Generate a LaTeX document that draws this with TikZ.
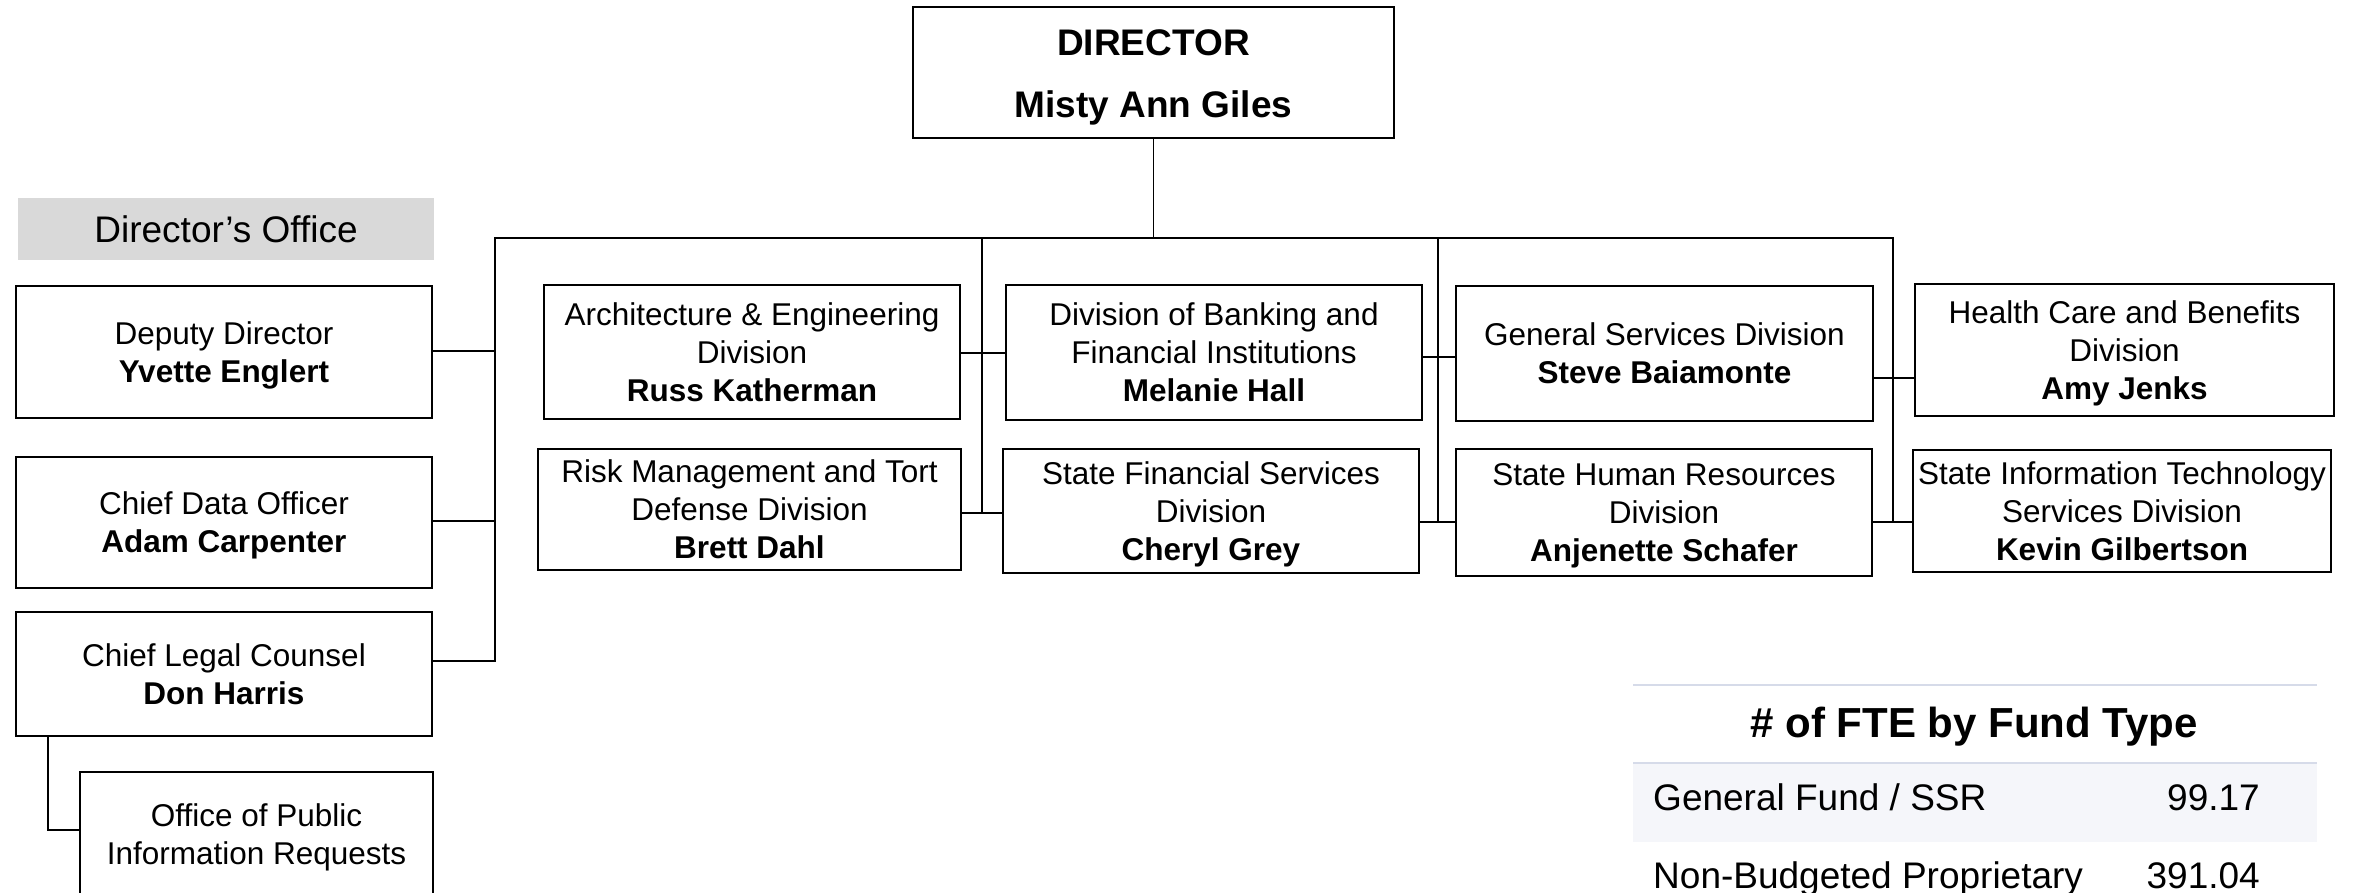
\documentclass[tikz,border=0pt]{standalone}
\usepackage{fontspec}
\setmainfont{Liberation Sans}
\definecolor{officegray}{HTML}{D9D9D9}
\definecolor{rulecol}{HTML}{D6DBE9}
\definecolor{rowbg}{HTML}{F5F6FA}
\begin{document}
\begin{tikzpicture}[x=1pt,y=-1pt,
  box/.style={draw=black, line width=2.2pt, fill=white, align=center, inner sep=0pt,
    text depth=0pt, font=\fontsize{31.5}{38}\selectfont},
  conn/.style={line width=1.8pt, line cap=rect},
  tabtext/.style={inner sep=0pt, font=\fontsize{37}{44}\selectfont},
]
\useasboundingbox (0,0) rectangle (2361,893);
\fill[white] (0,0) rectangle (2361,893);

% Director
\node[box, minimum width=481pt, minimum height=131pt, font=\fontsize{37}{62}\selectfont\bfseries]
  (dir) at (1153.5,72.5) {\raisebox{-3pt}{DIRECTOR}\\\raisebox{-3pt}{Misty Ann Giles}};

% Director's office
\node[fill=officegray, minimum width=416pt, minimum height=62pt, inner sep=0pt,
  font=\fontsize{37}{44}\selectfont] (doff) at (226,229) {Director’s Office};
\node[box, minimum width=416pt, minimum height=132pt] (dep) at (224,352)
  {Deputy Director\\\textbf{Yvette Englert}};
\node[box, minimum width=416pt, minimum height=131pt] (cdo) at (224,522.5)
  {Chief Data Officer\\\textbf{Adam Carpenter}};
\node[box, minimum width=416pt, minimum height=124pt] (clc) at (224,674)
  {Chief Legal Counsel\\\textbf{Don Harris}};
\node[box, minimum width=353pt, minimum height=139pt, anchor=north west] (opir) at (79,771)
  {\raisebox{-2.5pt}[0pt][0pt]{\begin{tabular}{@{}c@{}}Office of Public\\Information Requests\end{tabular}}};

% Divisions
\node[box, minimum width=416pt, minimum height=134pt] (arch) at (752,352)
  {Architecture \& Engineering\\Division\\\textbf{Russ Katherman}};
\node[box, minimum width=423pt, minimum height=121pt] (risk) at (749.5,509.5)
  {Risk Management and Tort\\Defense Division\\\textbf{Brett Dahl}};
\node[box, minimum width=416pt, minimum height=135pt] (bank) at (1214,352.5)
  {Division of Banking and\\Financial Institutions\\\textbf{Melanie Hall}};
\node[box, minimum width=416pt, minimum height=124pt] (sfs) at (1211,511)
  {State Financial Services\\Division\\\textbf{Cheryl Grey}};
\node[box, minimum width=417pt, minimum height=135pt] (gsd) at (1664.5,353.5)
  {General Services Division\\\textbf{Steve Baiamonte}};
\node[box, minimum width=416pt, minimum height=127pt] (shr) at (1664,512.5)
  {State Human Resources\\Division\\\textbf{Anjenette Schafer}};
\node[box, minimum width=419pt, minimum height=132pt] (hcb) at (2124.5,350)
  {Health Care and Benefits\\Division\\\textbf{Amy Jenks}};
\node[box, minimum width=418pt, minimum height=122pt] (sit) at (2122,511)
  {State Information Technology\\Services Division\\\textbf{Kevin Gilbertson}};

% Bus coordinates
\coordinate (busL) at (495,238);
\coordinate (busR) at (1893,238);
\coordinate (v1) at (982,238);
\coordinate (v2) at (1438,238);
\coordinate (lend) at (495,661);
\coordinate (v1end) at (982,513);
\coordinate (v2end) at (1438,522);
\coordinate (v3end) at (1893,522);
\coordinate (opbend) at (48,830);

% Connectors
\draw[conn] (dir.south) -- (dir.south |- busL);
\draw[conn] (busL) -- (busR);
\draw[conn] (busL) -- (lend);
\draw[conn] (v1) -- (v1end);
\draw[conn] (v2) -- (v2end);
\draw[conn] (busR) -- (v3end);

\draw[conn] (dep.east |- 0,351) -- (busL |- 0,351);
\draw[conn] (cdo.east |- 0,521) -- (busL |- 0,521);
\draw[conn] (clc.east |- lend) -- (lend);
\draw[conn] (clc.south -| opbend) -- (opbend) -- (opir.west |- opbend);

\draw[conn] (arch.east |- 0,353) -- (bank.west |- 0,353);
\draw[conn] (risk.east |- v1end) -- (sfs.west |- v1end);
\draw[conn] (bank.east |- 0,357) -- (gsd.west |- 0,357);
\draw[conn] (sfs.east |- v2end) -- (shr.west |- v2end);
\draw[conn] (gsd.east |- 0,378) -- (hcb.west |- 0,378);
\draw[conn] (shr.east |- v3end) -- (sit.west |- v3end);

% Table
\fill[rowbg] (1633,764) rectangle (2317,842);
\draw[rulecol, line width=2.5pt] (1633,685) -- (2317,685);
\draw[rulecol, line width=2.5pt] (1633,763) -- (2317,763);
\node[inner sep=0pt, font=\fontsize{42}{48}\selectfont\bfseries] (ttl) at (1974,727) {\# of FTE by Fund Type};
\node[tabtext, anchor=base west] (r1l) at (1653,810) {General Fund / SSR};
\node[tabtext, anchor=base east] (r1v) at (2260,810) {99.17};
\node[tabtext, anchor=base west] (r2l) at (1653,888) {Non-Budgeted Proprietary};
\node[tabtext, anchor=base east] (r2v) at (2260,888) {391.04};
\end{tikzpicture}
\end{document}
